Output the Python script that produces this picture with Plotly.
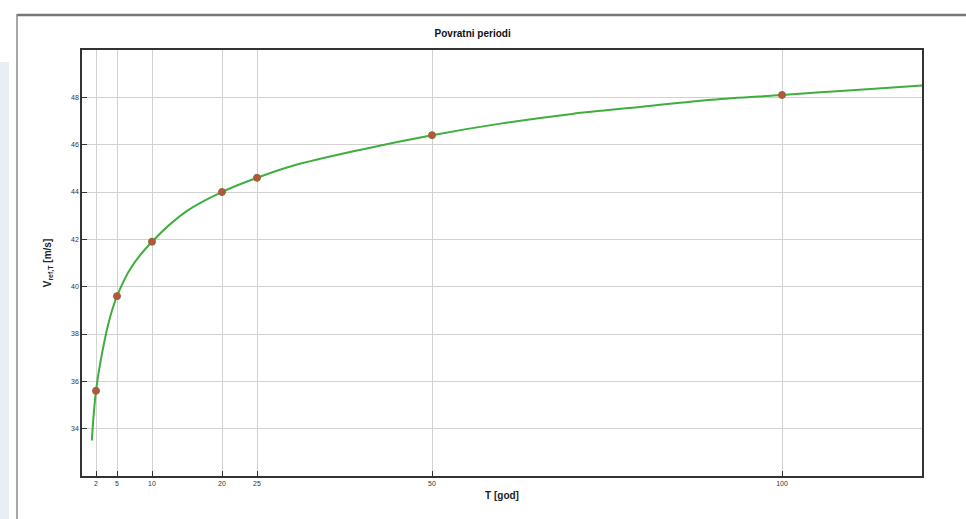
import plotly.graph_objects as go

# Return periods (markers)
T_points = [2, 5, 10, 20, 25, 50, 100]
V_points = [35.6, 39.6, 41.9, 44.0, 44.6, 46.4, 48.1]

# Curve
T_curve = [1.4, 2, 3, 4, 5, 7, 10, 15, 20, 25, 30, 40, 50, 60, 70, 80, 90, 100, 110, 120]
V_curve = [33.5, 35.6, 37.4, 38.7, 39.6, 40.8, 41.9, 43.2, 44.0, 44.6, 45.1, 45.8, 46.4,
           46.9, 47.3, 47.6, 47.9, 48.1, 48.3, 48.5]

x_ticks = [2, 5, 10, 20, 25, 50, 100]
y_ticks = [34, 36, 38, 40, 42, 44, 46, 48]

fig = go.Figure()
fig.add_trace(go.Scatter(x=T_curve, y=V_curve, mode="lines",
                         line=dict(color="#3fae3f", width=2, shape="spline"),
                         showlegend=False, hoverinfo="skip"))
fig.add_trace(go.Scatter(x=T_points, y=V_points, mode="markers",
                         marker=dict(color="#b8553a", size=7,
                                     line=dict(color="#8a6a3a", width=1)),
                         showlegend=False))

W, H = 966, 519
ml, mr, mt, mb = 82, 44, 50, 43
pw, ph = W - ml - mr, H - mt - mb


def px(x):
    return (x - ml) / pw


def py(y):
    return (H - mb - y) / ph


font = dict(family="Liberation Sans, Arial, sans-serif", color="#222", size=7)
tickfont = dict(family="Liberation Sans, Arial, sans-serif", color="#333", size=7)

fig.update_layout(
    width=W, height=H,
    margin=dict(l=ml, r=mr, t=mt, b=mb),
    paper_bgcolor="white", plot_bgcolor="white",
    font=font,
    title=dict(text="<b>Povratni periodi</b>", x=px(493), xanchor="center",
               y=1 - 33 / H, yanchor="middle",
               font=dict(family="Liberation Sans Narrow, Liberation Sans, Arial", size=10, color="#111")),
    xaxis=dict(range=[0, 120], tickmode="array", tickvals=x_ticks,
               ticktext=[str(v) for v in x_ticks], tickfont=tickfont,
               showgrid=True, gridcolor="#d2d2d2", gridwidth=1,
               showline=True, linecolor="#333", linewidth=1.5, mirror=True,
               ticks="inside", ticklen=5, tickcolor="#333", zeroline=False,
               title=dict(text="<b>T [god]</b>", standoff=6, font=dict(size=10, color="#222"))),
    yaxis=dict(range=[32, 50], tickmode="array", tickvals=y_ticks,
               ticktext=[str(v) for v in y_ticks], tickfont=tickfont,
               showgrid=True, gridcolor="#d2d2d2", gridwidth=1,
               showline=True, linecolor="#333", linewidth=1.5, mirror=True,
               ticks="inside", ticklen=5, tickcolor="#333", zeroline=False,
               title=dict(text="<b>V<sub>ref,T</sub> [m/s]</b>", standoff=18,
                          font=dict(size=10, color="#222"))),
    shapes=[
        # outer frame lines
        dict(type="line", xref="paper", yref="paper", x0=px(17), x1=px(970),
             y0=py(15), y1=py(15), line=dict(color="#777", width=2.5)),
        dict(type="line", xref="paper", yref="paper", x0=px(17), x1=px(17),
             y0=py(14), y1=py(525), line=dict(color="#888", width=1.5)),
        # left light strip
        dict(type="rect", xref="paper", yref="paper", x0=px(0), x1=px(9),
             y0=py(62), y1=py(525), line=dict(width=0), fillcolor="#e9eef4",
             layer="below"),
    ],
)

fig.write_html("out.html", config={"displayModeBar": False},
               post_script="document.body.style.margin='0';document.body.style.overflow='hidden';")
